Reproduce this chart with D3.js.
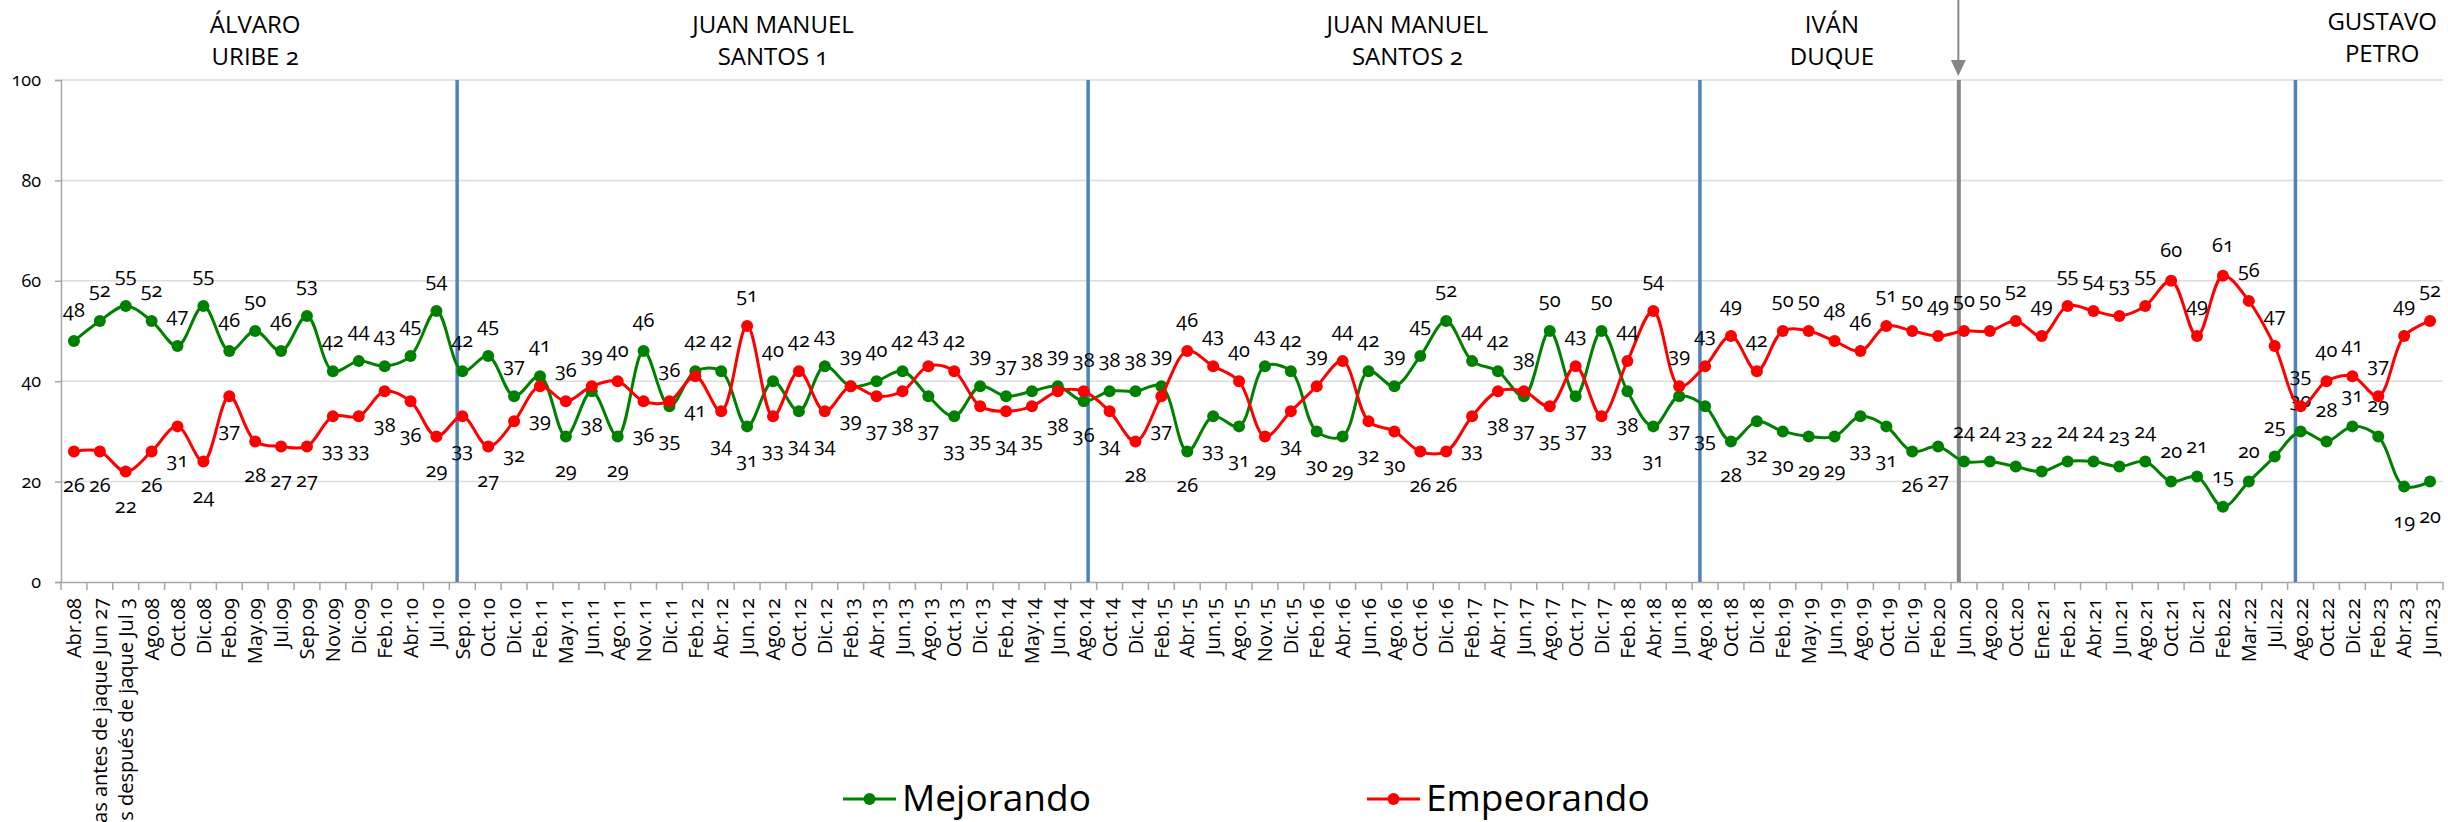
<!DOCTYPE html>
<html>
<head>
<meta charset="utf-8">
<script src="https://cdn.jsdelivr.net/npm/d3@7"></script>
<style>
html, body { margin: 0; padding: 0; background: #fff; overflow: hidden; }
svg { display: block; font-family: "Open Sans", sans-serif; font-variant-numeric: oldstyle-nums; }
</style>
</head>
<body>
<div id="chart"></div>
<script>
// categories (survey dates)
const categories = [
    'Abr.08', 'Días antes de jaque Jun 27', 'Días después de jaque Jul 3', 'Ago.08', 'Oct.08', 'Dic.08',
    'Feb.09', 'May.09', 'Jul.09', 'Sep.09', 'Nov.09', 'Dic.09', 'Feb.10', 'Abr.10', 'Jul.10',
    'Sep.10', 'Oct.10', 'Dic.10', 'Feb.11', 'May.11', 'Jun.11', 'Ago.11', 'Nov.11', 'Dic.11',
    'Feb.12', 'Abr.12', 'Jun.12', 'Ago.12', 'Oct.12', 'Dic.12', 'Feb.13', 'Abr.13', 'Jun.13',
    'Ago.13', 'Oct.13', 'Dic.13', 'Feb.14', 'May.14', 'Jun.14', 'Ago.14', 'Oct.14', 'Dic.14',
    'Feb.15', 'Abr.15', 'Jun.15', 'Ago.15', 'Nov.15', 'Dic.15', 'Feb.16', 'Abr.16', 'Jun.16',
    'Ago.16', 'Oct.16', 'Dic.16', 'Feb.17', 'Abr.17', 'Jun.17', 'Ago.17', 'Oct.17', 'Dic.17',
    'Feb.18', 'Abr.18', 'Jun.18', 'Ago.18', 'Oct.18', 'Dic.18', 'Feb.19', 'May.19', 'Jun.19',
    'Ago.19', 'Oct.19', 'Dic.19', 'Feb.20', 'Jun.20', 'Ago.20', 'Oct.20', 'Ene.21', 'Feb.21',
    'Abr.21', 'Jun.21', 'Ago.21', 'Oct.21', 'Dic.21', 'Feb.22', 'Mar.22', 'Jul.22', 'Ago.22',
    'Oct.22', 'Dic.22', 'Feb.23', 'Abr.23', 'Jun.23'
];

const mejorando = [
    48, 52, 55, 52, 47, 55, 46, 50, 46, 53, 42, 44, 43, 45, 54,
    42, 45, 37, 41, 29, 38, 29, 46, 35,
    42, 42, 31, 40, 34, 43, 39, 40, 42,
    37, 33, 39, 37, 38, 39, 36, 38, 38,
    39, 26, 33, 31, 43, 42, 30, 29, 42,
    39, 45, 52, 44, 42, 37, 50, 37, 50,
    38, 31, 37, 35, 28, 32, 30, 29, 29,
    33, 31, 26, 27, 24, 24, 23, 22, 24,
    24, 23, 24, 20, 21, 15, 20, 25, 30,
    28, 31, 29, 19, 20
];

const empeorando = [
    26, 26, 22, 26, 31, 24, 37, 28, 27, 27, 33, 33, 38, 36, 29,
    33, 27, 32, 39, 36, 39, 40, 36, 36,
    41, 34, 51, 33, 42, 34, 39, 37, 38,
    43, 42, 35, 34, 35, 38, 38, 34, 28,
    37, 46, 43, 40, 29, 34, 39, 44, 32,
    30, 26, 26, 33, 38, 38, 35, 43, 33,
    44, 54, 39, 43, 49, 42, 50, 50, 48,
    46, 51, 50, 49, 50, 50, 52, 49, 55,
    54, 53, 55, 60, 49, 61, 56, 47, 35,
    40, 41, 37, 49, 52
];

const yTicks = [0, 20, 40, 60, 80, 100];
const seriesNames = ['Mejorando', 'Empeorando'];
const periodTitles = [
    ['ÁLVARO', 'URIBE 2'],
    ['JUAN MANUEL', 'SANTOS 1'],
    ['JUAN MANUEL', 'SANTOS 2'],
    ['IVÁN', 'DUQUE'],
    ['GUSTAVO', 'PETRO']
];
// first survey of each new government
const periodStarts = ['Sep.10', 'Ago.14', 'Ago.18', 'Ago.22'];
const pandemicStart = 'Jun.20';

const W = 2448, H = 822;
const margin = {top: 80, right: 5, bottom: 240, left: 61};
const width = W - margin.left - margin.right;
const height = H - margin.top - margin.bottom;

const green = '#008000';
const red = '#ff0000';

const svg = d3.select('#chart').append('svg')
    .attr('width', W)
    .attr('height', H);

const g = svg.append('g')
    .attr('transform', 'translate(' + margin.left + ',' + margin.top + ')');

const x = d3.scaleBand()
    .domain(categories)
    .range([0, width])
    .padding(0);
const cx = d => x(d) + x.bandwidth() / 2;

const y = d3.scaleLinear()
    .domain([0, 100])
    .range([height, 0]);

// gridlines
g.append('g')
    .selectAll('line')
    .data(yTicks.filter(d => d > 0))
    .enter().append('line')
    .attr('x1', 0)
    .attr('x2', width)
    .attr('y1', d => y(d))
    .attr('y2', d => y(d))
    .attr('stroke', '#dcdcdc')
    .attr('stroke-width', 1.5);

// y axis
const yAxis = g.append('g')
    .call(d3.axisLeft(y).tickValues(yTicks).tickSize(6).tickPadding(14));
yAxis.select('.domain').attr('stroke', '#a6a6a6').attr('stroke-width', 1.5);
yAxis.selectAll('.tick line').attr('stroke', '#a6a6a6').attr('stroke-width', 1.5);
yAxis.selectAll('text')
    .style('font-size', '18px')
    .style('font-family', '"Open Sans", sans-serif')
    .attr('fill', '#000');

// x axis
const xAxis = g.append('g')
    .attr('transform', 'translate(0,' + height + ')')
    .call(d3.axisBottom(x).tickSize(0).tickSizeOuter(0));
xAxis.select('.domain').attr('stroke', '#a6a6a6').attr('stroke-width', 1.5);
xAxis.selectAll('text')
    .attr('transform', 'rotate(-90)')
    .attr('x', -16)
    .attr('y', 0)
    .attr('dy', '0.36em')
    .style('text-anchor', 'end')
    .style('font-size', '20px')
    .style('font-family', '"Open Sans", sans-serif')
    .attr('fill', '#000');

// ticks between categories
xAxis.append('g')
    .selectAll('line')
    .data(d3.range(categories.length + 1))
    .enter().append('line')
    .attr('x1', i => i * x.step())
    .attr('x2', i => i * x.step())
    .attr('y1', 0)
    .attr('y2', 8)
    .attr('stroke', '#a6a6a6')
    .attr('stroke-width', 1.5);

// government dividers
const dividerOffset = {'Sep.10': 0.3, 'Ago.14': 0.67, 'Ago.18': 0.3, 'Ago.22': 0.3};
g.append('g')
    .selectAll('line')
    .data(periodStarts)
    .enter().append('line')
    .attr('x1', d => x(d) + x.step() * dividerOffset[d])
    .attr('x2', d => x(d) + x.step() * dividerOffset[d])
    .attr('y1', 0)
    .attr('y2', height)
    .attr('stroke', '#4f81bd')
    .attr('stroke-width', 3.5);

// pandemic marker (gray line with arrow)
const px = x(pandemicStart) + x.step() * 0.3;
g.append('line')
    .attr('x1', px).attr('x2', px)
    .attr('y1', 0).attr('y2', height)
    .attr('stroke', '#878787')
    .attr('stroke-width', 4);
g.append('line')
    .attr('x1', px - 0.5).attr('x2', px - 0.5)
    .attr('y1', -margin.top).attr('y2', -18)
    .attr('stroke', '#878787')
    .attr('stroke-width', 2);
g.append('path')
    .attr('d', 'M' + (px - 8) + ',' + (-20) + 'L' + (px + 7) + ',' + (-20) + 'L' + (px - 0.5) + ',' + (-4) + 'Z')
    .attr('fill', '#878787');

// period titles
const titleAt = [7.5, 27.5, 52, 68.4, 89.65];
const titles = g.append('g');
periodTitles.forEach((t, i) => {
    const tx = titleAt[i] * x.step();
    const dy = i === 4 ? -3 : 0;
    titles.append('text')
        .attr('x', tx)
        .attr('y', -47 + dy)
        .attr('text-anchor', 'middle')
        .style('font-size', '24px')
        .text(t[0]);
    titles.append('text')
        .attr('x', tx)
        .attr('y', -15 + dy)
        .attr('text-anchor', 'middle')
        .style('font-size', '24px')
        .text(t[1]);
});

// series
const iStart = categories.indexOf(pandemicStart);
const iEnd = categories.indexOf('Feb.23');
const series = [
    {name: seriesNames[0], values: mejorando, other: empeorando, color: green,
     above: (v, o, i) => v >= o || (i >= iStart && i <= iEnd)},
    {name: seriesNames[1], values: empeorando, other: mejorando, color: red,
     above: (v, o, i) => v > o}
];

const line = d3.line()
    .x(d => cx(d.cat))
    .y(d => y(d.v))
    .curve(d3.curveCatmullRom.alpha(0.5));

series.forEach(s => {
    const pts = categories.map((c, i) => ({cat: c, v: s.values[i], o: s.other[i], i: i}));
    const sg = g.append('g');
    sg.append('path')
        .datum(pts)
        .attr('fill', 'none')
        .attr('stroke', s.color)
        .attr('stroke-width', 3)
        .attr('stroke-linejoin', 'round')
        .attr('d', line);
    sg.selectAll('.dot')
        .data(pts)
        .enter().append('circle')
        .attr('class', 'dot')
        .attr('cx', d => cx(d.cat))
        .attr('cy', d => y(d.v))
        .attr('r', 6)
        .attr('fill', s.color);
    sg.selectAll('.lbl')
        .data(pts)
        .enter().append('text')
        .attr('class', 'lbl')
        .attr('x', d => cx(d.cat))
        .attr('y', d => s.above(d.v, d.o, d.i) ? y(d.v) - 24 : y(d.v) + 41)
        .attr('text-anchor', 'middle')
        .style('font-size', '20px')
        .attr('fill', '#000')
        .text(d => d.v);
});

// legend
const legend = svg.append('g');
const legendItems = [
    {name: seriesNames[0], color: green, x0: 843},
    {name: seriesNames[1], color: red, x0: 1367}
];
legendItems.forEach(it => {
    legend.append('line')
        .attr('x1', it.x0).attr('x2', it.x0 + 53)
        .attr('y1', 799).attr('y2', 799)
        .attr('stroke', it.color)
        .attr('stroke-width', 3);
    legend.append('circle')
        .attr('cx', it.x0 + 26.5).attr('cy', 799)
        .attr('r', 6)
        .attr('fill', it.color);
    legend.append('text')
        .attr('x', it.x0 + 59)
        .attr('y', 811)
        .style('font-size', '37px')
        .attr('fill', '#000')
        .text(it.name);
});
</script>
</body>
</html>
